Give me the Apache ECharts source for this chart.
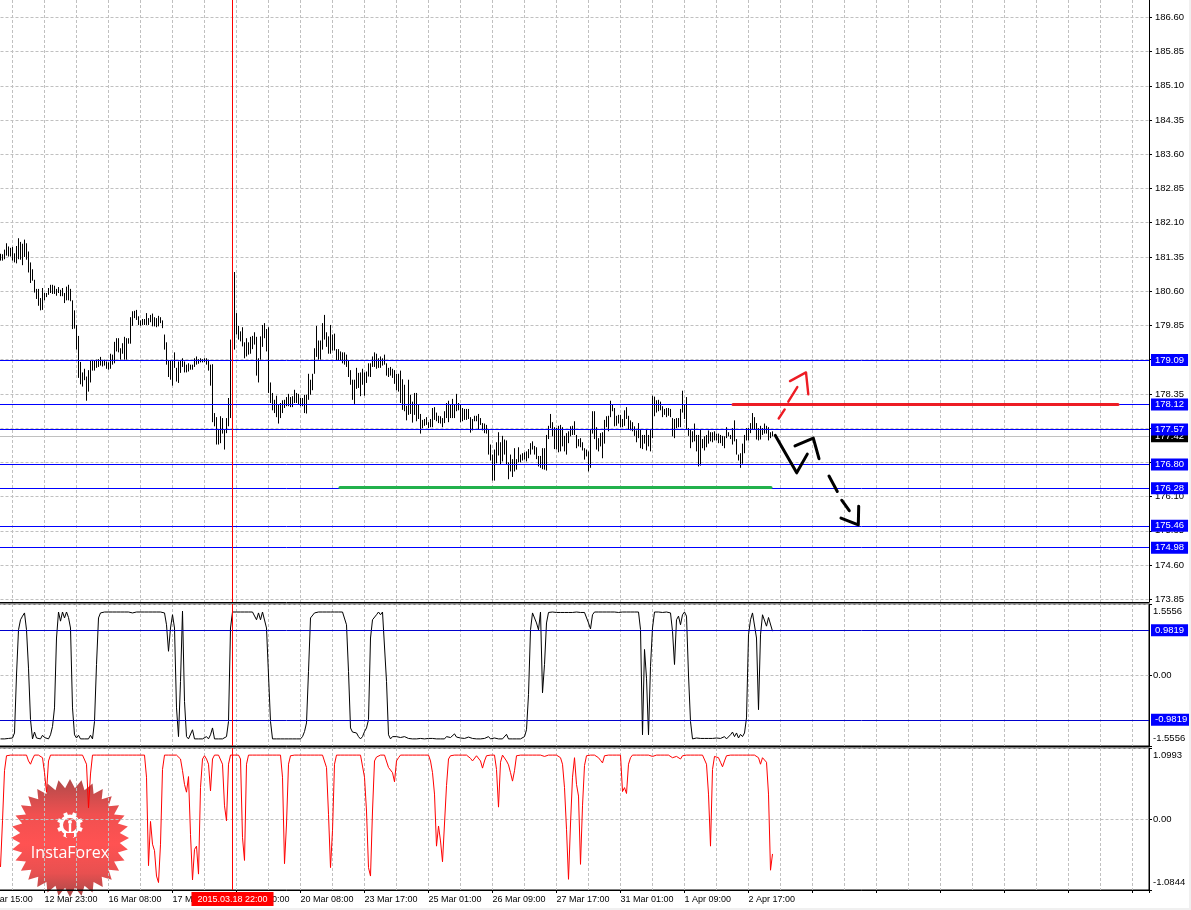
<!DOCTYPE html>
<html>
<head>
<meta charset="utf-8">
<style>
html,body{margin:0;padding:0;background:#f0f0f0;}
#c{width:1189px;height:908px;}
</style>
<script src="https://cdn.jsdelivr.net/npm/echarts@6/dist/echarts.min.js"></script>
</head>
<body>
<div id="c"></div>
<script>
const priceTicks = [186.60,185.85,185.10,184.35,183.60,182.85,182.10,181.35,180.60,179.85,179.10,178.35,177.60,176.85,176.10,175.35,174.60,173.85];
const blueLevels = [179.09,178.12,177.57,176.80,176.28,175.46,174.98];
const bidLevel = 177.42;
const oscLevels = [0.9819,-0.9819];
const oscTicks = [-1.5556,0,1.5556];
const redTicks = [-1.0844,0,1.0993];
const timeLabels = ['11 Mar 15:00','12 Mar 23:00','16 Mar 08:00','17 Mar 16:00','19 Mar 00:00','20 Mar 08:00','23 Mar 17:00','25 Mar 01:00','26 Mar 09:00','27 Mar 17:00','31 Mar 01:00','1 Apr 09:00','2 Apr 17:00'];
const cursorTime = '2015.03.18 22:00';
const cursorX = 94;
const firstBarX = -22;

const barHighs = [
181.42,181.41,181.51,181.65,181.58,181.55,181.57,181.43,181.59,181.76,
181.68,181.64,181.73,181.65,181.47,181.23,181.08,180.85,180.65,180.65,
180.45,180.67,180.56,180.56,180.67,180.74,180.74,180.72,180.65,180.69,
180.63,180.67,180.56,180.70,180.74,180.65,180.40,180.18,179.86,179.62,
179.05,178.82,178.90,178.73,178.87,179.08,179.08,179.08,179.10,179.11,
179.16,179.08,179.10,179.06,179.04,179.23,179.21,179.49,179.57,179.57,
179.35,179.46,179.60,179.57,179.57,180.03,180.16,180.17,180.19,180.05,
179.96,179.99,179.99,180.12,180.01,180.08,180.11,180.03,180.01,180.06,
180.03,179.96,179.65,179.48,179.08,179.08,179.08,179.26,178.92,179.06,
179.08,179.13,179.06,178.99,179.02,178.99,178.99,179.13,179.17,179.11,
179.13,179.11,179.13,179.13,179.10,178.99,179.00,177.93,177.84,177.58,
177.86,177.82,177.58,177.82,178.26,179.54,179.39,181.02,180.12,179.84,
179.72,179.81,179.48,179.57,179.48,179.60,179.62,179.70,179.60,179.13,
179.61,179.86,179.90,179.77,179.81,178.60,178.37,178.22,178.31,178.11,
178.15,178.21,178.22,178.28,178.35,178.28,178.30,178.44,178.37,178.35,
178.26,178.26,178.33,178.33,178.79,178.66,178.79,179.35,179.84,179.52,
179.52,179.90,180.08,179.70,179.61,179.86,179.65,179.67,179.33,179.33,
179.28,179.26,179.26,179.21,179.08,178.87,178.66,178.66,178.92,178.81,
178.82,178.90,178.82,178.84,179.02,179.02,179.17,179.26,179.23,179.13,
179.17,179.13,179.21,179.02,178.92,178.94,178.90,178.87,178.79,178.79,
178.86,178.67,178.55,178.09,178.66,178.33,178.18,178.37,178.37,178.11,
177.91,177.78,177.80,177.84,177.73,177.80,178.04,178.06,177.94,177.87,
177.86,177.82,177.97,178.15,178.20,178.11,178.24,178.11,178.35,178.15,
178.11,178.04,178.02,178.02,178.02,177.84,177.80,177.87,177.87,177.91,
177.82,177.71,177.70,177.67,177.56,177.24,177.02,177.13,177.29,177.51,
177.29,177.43,177.35,177.33,176.85,177.02,176.92,177.16,176.92,177.18,
177.02,177.05,177.07,177.09,177.14,177.27,177.31,177.21,177.18,176.99,
176.99,177.16,177.16,177.45,177.65,177.91,177.73,177.62,177.60,177.65,
177.67,177.62,177.43,177.49,177.53,177.64,177.65,177.75,177.45,177.36,
177.38,177.29,177.16,177.13,177.09,177.56,177.97,177.97,177.62,177.38,
177.49,177.51,177.78,177.86,177.87,178.20,178.11,178.04,177.87,177.89,
177.89,177.80,177.99,178.06,177.87,177.77,177.73,177.64,177.55,177.71,
177.58,177.45,177.45,177.58,177.45,177.58,178.31,178.29,178.21,178.22,
178.18,178.08,178.02,178.04,178.04,178.02,177.82,177.80,177.82,177.82,
178.02,178.42,178.11,178.28,177.60,177.58,177.53,177.70,177.45,177.45,
177.58,177.36,177.42,177.45,177.55,177.51,177.51,177.53,177.48,177.48,
177.45,177.43,177.42,177.62,177.51,177.45,177.60,177.77,177.36,177.02,
177.05,177.26,177.45,177.60,177.60,177.71,177.93,177.84,177.71,177.60,
177.65,177.60,177.70,177.65,177.62,177.51,177.53];

const barLows = [
181.27,181.27,181.30,181.38,181.36,181.36,181.27,181.23,181.21,181.30,
181.29,181.17,181.35,181.29,181.01,180.78,180.83,180.57,180.43,180.28,
180.18,180.19,180.40,180.47,180.52,180.56,180.54,180.54,180.50,180.56,
180.49,180.49,180.34,180.40,180.40,180.38,179.77,179.78,179.32,178.70,
178.56,178.51,178.65,178.20,178.40,178.60,178.86,178.86,178.92,178.94,
178.97,178.95,178.97,178.90,178.88,178.90,178.99,179.02,179.28,179.26,
179.10,179.23,179.10,179.10,179.45,179.45,179.84,180.01,179.97,179.86,
179.84,179.86,179.86,179.86,179.86,179.92,179.83,179.83,179.81,179.83,
179.90,179.79,179.32,178.99,178.72,178.66,178.53,178.92,178.62,178.59,
178.81,178.94,178.82,178.82,178.84,178.88,178.88,178.94,178.99,179.01,
179.04,179.04,179.05,178.99,178.86,178.53,177.73,177.64,177.24,177.24,
177.27,177.48,177.13,177.49,177.64,177.82,178.11,179.32,179.65,179.54,
179.50,179.39,179.13,179.17,179.21,179.23,179.33,179.43,178.75,178.60,
179.10,179.38,179.57,179.28,178.37,178.15,177.99,177.93,177.84,177.70,
177.82,177.93,178.04,178.08,178.08,178.06,178.06,178.15,178.15,178.11,
178.08,178.08,177.93,177.92,178.22,178.33,178.43,178.79,179.16,179.10,
179.10,179.32,179.54,179.38,179.23,179.23,179.30,179.30,179.08,179.08,
179.08,179.02,178.99,178.94,178.72,178.55,178.22,178.13,178.46,178.48,
178.30,178.55,178.31,178.59,178.73,178.72,178.94,178.94,178.90,178.92,
178.92,178.97,178.99,178.75,178.72,178.75,178.70,178.57,178.43,178.40,
178.15,178.00,177.97,177.77,177.89,177.91,177.72,177.89,177.75,177.80,
177.48,177.60,177.65,177.67,177.60,177.62,177.62,177.78,177.75,177.71,
177.70,177.62,177.71,177.82,177.73,177.82,177.82,177.82,177.97,177.99,
177.73,177.75,177.78,177.78,177.80,177.50,177.55,177.75,177.75,177.58,
177.67,177.55,177.49,177.48,177.02,176.89,176.45,176.45,176.83,177.00,
176.80,176.87,177.02,176.80,176.48,176.65,176.53,176.65,176.69,176.85,
176.85,176.89,176.91,176.87,176.94,177.02,177.13,177.02,176.92,176.76,
176.73,176.70,176.69,176.67,177.36,177.60,177.42,177.14,177.13,177.07,
177.09,177.20,177.09,177.02,177.27,177.42,177.45,177.45,177.16,177.20,
177.18,177.11,176.91,176.98,176.65,176.73,177.48,177.36,177.13,177.09,
177.20,176.94,177.26,177.62,177.53,177.84,177.97,177.64,177.65,177.70,
177.62,177.62,177.65,177.80,177.58,177.55,177.53,177.43,177.29,177.38,
177.16,177.14,177.26,177.11,177.20,177.09,177.38,177.86,177.94,177.97,
177.99,177.84,177.89,177.84,177.87,177.84,177.42,177.38,177.60,177.62,
177.62,177.94,177.80,177.58,177.43,177.16,177.29,177.31,177.09,176.76,
176.78,177.16,177.11,177.18,177.26,177.31,177.29,177.33,177.33,177.27,
177.27,177.21,177.16,177.38,177.42,177.36,177.24,177.31,177.02,176.89,
176.73,176.82,177.05,177.33,177.33,177.49,177.56,177.58,177.35,177.33,
177.35,177.45,177.48,177.48,177.33,177.38,177.42];

const oscValues = [
-1.40,-1.39,-1.40,-1.40,-1.39,-1.40,-1.38,-1.27,0.00,0.99,
1.21,1.29,1.36,0.99,0.15,-0.98,-1.40,-1.25,-1.38,-1.35,
-1.40,-1.32,-1.37,-1.35,-1.40,-1.31,-1.13,-0.72,0.81,1.38,
1.18,1.38,1.25,1.38,1.26,1.03,-0.72,-1.31,-1.38,-1.32,
-1.40,-1.40,-1.40,-1.40,-1.40,-1.32,-1.40,-1.02,0.23,1.25,
1.36,1.38,1.38,1.37,1.38,1.36,1.38,1.38,1.38,1.37,
1.38,1.38,1.38,1.37,1.38,1.38,1.36,1.38,1.38,1.38,
1.38,1.37,1.38,1.38,1.38,1.38,1.38,1.38,1.38,1.38,
1.38,1.37,1.36,1.10,0.52,1.03,1.32,1.03,-0.72,-1.35,
-0.14,1.40,-0.58,-1.35,-1.40,-1.40,-1.20,-1.40,-1.40,-1.40,
-1.40,-1.40,-1.40,-1.35,-1.40,-1.31,-1.16,-1.40,-1.40,-1.40,
-1.40,-1.40,-1.40,-1.35,-1.02,1.03,1.38,1.38,1.38,1.38,
1.38,1.38,1.38,1.38,1.38,1.38,1.38,1.38,1.21,1.36,
1.21,1.38,1.38,1.03,0.00,-1.02,-1.40,-1.40,-1.40,-1.40,
-1.40,-1.40,-1.40,-1.40,-1.40,-1.40,-1.40,-1.40,-1.40,-1.40,
-1.40,-1.35,-1.24,-1.05,0.08,1.25,1.25,1.36,1.38,1.38,
1.38,1.38,1.37,1.38,1.38,1.38,1.38,1.38,1.38,1.38,
1.38,1.38,1.38,1.10,0.08,-1.16,-1.25,-1.27,-1.27,-1.35,
-1.40,-1.35,-1.24,-1.16,-0.98,0.81,1.21,1.21,1.32,1.38,
1.32,1.38,1.38,-0.14,-1.31,-1.40,-1.35,-1.31,-1.35,-1.31,
-1.37,-1.40,-1.35,-1.39,-1.39,-1.40,-1.40,-1.40,-1.40,-1.40,
-1.39,-1.40,-1.40,-1.40,-1.39,-1.38,-1.39,-1.39,-1.40,-1.40,
-1.40,-1.40,-1.40,-1.35,-1.33,-1.37,-1.39,-1.29,-1.36,-1.39,
-1.38,-1.39,-1.39,-1.37,-1.36,-1.38,-1.39,-1.40,-1.40,-1.39,
-1.40,-1.40,-1.39,-1.40,-1.35,-1.40,-1.37,-1.38,-1.39,-1.40,
-1.40,-1.40,-1.40,-1.30,-1.40,-1.38,-1.40,-1.40,-1.40,-1.40,
-1.40,-1.38,-1.35,-1.20,-0.43,0.99,1.36,1.38,1.14,0.99,
1.38,-0.39,0.23,1.14,1.37,1.38,1.38,1.37,1.37,1.38,
1.37,1.37,1.37,1.38,1.37,1.38,1.37,1.37,1.38,1.38,
1.37,1.38,1.37,1.37,1.14,1.01,1.32,1.38,1.38,1.38,
1.37,1.38,1.38,1.38,1.37,1.38,1.38,1.38,1.38,1.37,
1.38,1.38,1.38,1.38,1.38,1.38,1.38,1.38,1.38,1.38,
1.00,-1.31,0.56,-0.07,-1.31,0.19,1.03,1.38,1.38,1.38,
1.38,1.37,1.38,1.38,1.38,1.36,0.96,0.23,1.21,1.29,
1.10,1.32,1.38,1.29,0.00,-1.02,-1.40,-1.40,-1.38,-1.37,
-1.39,-1.39,-1.39,-1.38,-1.39,-1.39,-1.39,-1.39,-1.38,-1.39,
-1.39,-1.40,-1.35,-1.40,-1.38,-1.31,-1.25,-1.35,-1.27,-1.38,
-1.30,-1.35,-1.27,-0.94,0.88,1.21,1.36,1.38,0.81,-0.76,
0.88,1.32,1.34,1.07,1.26,1.25,0.96];

const redValues = [
-0.73,-0.02,0.75,0.98,0.99,0.99,0.99,0.99,0.99,0.99,
0.99,0.99,0.99,0.99,0.90,0.85,0.93,0.99,0.99,0.99,
0.99,0.95,0.72,0.42,0.90,0.99,0.99,0.99,0.99,0.99,
0.99,0.99,0.99,0.99,0.99,0.99,0.99,0.99,0.99,0.99,
0.99,0.99,0.99,0.85,0.18,0.70,0.99,0.99,0.99,0.99,
0.99,0.99,0.99,0.99,0.99,0.99,0.99,0.99,0.99,0.99,
0.99,0.99,0.99,0.99,0.99,0.99,0.99,0.99,0.99,0.99,
0.99,0.99,0.99,0.65,-0.71,-0.03,-0.38,-0.48,-0.87,-0.97,
-0.38,0.77,0.99,0.99,0.99,0.99,0.99,0.99,0.99,0.99,
0.93,0.75,0.54,0.42,0.66,-0.23,-0.93,-0.46,-0.41,-0.84,
0.49,0.93,0.98,0.93,0.85,0.44,0.93,0.99,0.99,0.99,
0.99,0.85,0.21,-0.02,0.85,0.99,0.99,0.99,0.99,0.99,
0.93,-0.28,-0.63,0.85,0.99,0.99,0.99,0.99,0.99,0.99,
0.99,0.99,0.99,0.99,0.99,0.99,0.99,0.99,0.99,0.99,
0.99,0.65,-0.68,-0.07,0.85,0.98,0.99,0.99,0.99,0.99,
0.99,0.99,0.99,0.99,0.99,0.99,0.99,0.99,0.99,0.99,
0.99,0.99,0.99,0.80,0.08,-0.74,-0.17,0.85,0.99,0.99,
0.99,0.99,0.99,0.99,0.99,0.99,0.99,0.99,0.99,0.99,
0.99,0.99,0.65,0.13,-0.74,-0.87,0.13,0.90,0.96,0.98,
0.99,0.99,0.99,0.96,0.80,0.80,0.72,0.58,0.90,0.95,
0.99,0.99,0.99,0.99,0.99,0.99,0.99,0.99,0.99,0.99,
0.99,0.99,0.99,0.99,0.99,0.90,0.72,0.39,-0.41,-0.10,
-0.33,-0.65,-0.64,0.52,0.93,0.98,0.99,0.99,0.99,0.99,
0.99,0.99,0.99,0.99,0.99,0.94,0.90,0.93,0.98,0.96,
0.90,0.79,0.90,0.98,0.99,0.99,0.99,0.99,0.77,0.19,
0.88,0.99,0.96,0.90,0.84,0.72,0.59,0.75,0.98,0.99,
0.99,0.99,0.99,0.99,0.99,0.99,0.99,0.99,0.99,0.99,
0.99,0.99,0.97,0.99,0.99,0.99,0.99,0.99,0.99,0.97,
0.95,0.85,0.49,-0.15,-0.92,-0.07,0.65,0.95,0.54,0.36,
-0.69,0.21,0.83,0.98,0.99,0.99,0.99,0.99,0.99,0.95,
0.91,0.87,0.98,0.99,0.99,0.99,0.99,0.99,0.99,0.99,
0.99,0.43,0.49,0.40,0.85,0.95,0.99,0.99,0.99,0.99,
0.99,0.99,0.99,0.99,0.99,0.99,0.97,0.99,0.99,0.99,
0.99,0.99,0.99,0.99,0.99,0.99,0.95,0.97,0.97,0.96,
0.93,0.98,0.99,0.99,0.99,0.99,0.99,0.99,0.99,0.99,
0.99,0.99,0.99,0.85,0.39,-0.41,0.77,0.97,0.96,0.95,
0.88,0.81,0.90,0.98,0.99,0.99,0.99,0.99,0.99,0.99,
0.99,0.99,0.99,0.99,0.99,0.99,0.99,0.99,0.99,0.95,
0.85,0.95,0.96,0.88,0.39,-0.78,-0.53];

const redZone = [[344.25,178.12],[536.75,178.12]];
const greenZone = [[147.75,176.30],[363.25,176.30]];
const redStrokes = [
 [[367.1,177.81],[370.1,178.01]],
 [[371.9,178.18],[376.4,178.50]],
 [[372.75,178.63],[380.75,178.82],[381.9,178.34]]
];
const blackStrokes = [
 [[365.4,177.44],[376.1,176.62],[381.4,177.03]],
 [[375.25,177.21],[384.4,177.38],[387.25,176.93]],
 [[392.25,176.55],[396.4,176.21]],
 [[398.6,176.02],[402.4,175.79]],
 [[398.25,175.63],[406.9,175.48],[407.1,175.89]]
];

const FONT = '"Liberation Sans",sans-serif';
const FS = 9.5;
const FSX = 9;
const dash = {color:'#c0c0c0',type:[3,2],width:1};
const chart = echarts.init(document.getElementById('c'), null, {renderer:'canvas'});

function xAxisFor(gridIndex, labelled){
  return {
    type:'value', gridIndex, min:-32, max:552.25, interval:32,
    axisLine:{show:true,onZero:false,lineStyle:{color:'#000'}},
    axisTick:{show:labelled,length:3,lineStyle:{color:'#000'}},
    minorTick:{show:false,splitNumber:2},
    splitLine:{show:true,lineStyle:dash},
    minorSplitLine:{show:true,lineStyle:dash},
    axisLabel:{show:labelled,align:'left',margin:5,fontFamily:FONT,fontSize:FSX,color:'#000',
      showMinLabel:true,hideOverlap:false,
      formatter:v=>timeLabels[Math.round((v+32)/32)]||''}
  };
}
function yAxisFor(gridIndex,min,max,ticks,fmt){
  return {
    type:'value', gridIndex, position:'right', min, max, scale:true,
    axisLine:{show:true,onZero:false,lineStyle:{color:'#000'}},
    axisTick:{show:true,length:3,customValues:ticks,lineStyle:{color:'#000'}},
    splitLine:{show:true,lineStyle:dash},
    axisLabel:{show:true,customValues:ticks,margin:gridIndex?4:6,fontFamily:FONT,fontSize:FS,lineHeight:15,color:'#000',formatter:fmt,
      verticalAlignMinLabel:gridIndex?'bottom':'middle',verticalAlignMaxLabel:gridIndex?'top':'middle',hideOverlap:false,showMinLabel:true,showMaxLabel:true}
  };
}
const fmtOsc = v=>Math.abs(v)<1e-6?'0.00':v.toFixed(4);
const cursorLine = (label)=>({
  silent:true,symbol:'none',animation:false,z:8,
  lineStyle:{color:'#ff0000',type:'solid',width:1},
  label:label?{show:true,position:'start',distance:2,formatter:cursorTime,color:'#fff',backgroundColor:'#ff0000',padding:[3,6,2,6],fontFamily:FONT,fontSize:FSX}:{show:false},
  data:[{xAxis:cursorX}]
});
const levelLine = (vals,color,lineColor,z,dec)=>({
  silent:true,symbol:'none',animation:false,z,precision:dec,
  lineStyle:{color:lineColor,type:'solid',width:1},
  label:{show:true,position:'end',distance:2,color:'#fff',backgroundColor:color,padding:[1,4,1,4],fontFamily:FONT,fontSize:FS,
    formatter:p=>Number(p.value).toFixed(dec)},
  data:vals.map(v=>({yAxis:v}))
});
const strokeSeries = (pts,color,width)=>({
  type:'line',xAxisIndex:0,yAxisIndex:0,data:pts,symbol:'none',z:7,silent:true,animation:false,
  lineStyle:{color,width,cap:'round',join:'round'}
});

const series = [
  {type:'line',name:'bid',xAxisIndex:0,yAxisIndex:0,data:[],symbol:'none',z:3,animation:false,
   markLine:levelLine([bidLevel],'#000','#c0c0c0',3,2)},
  {type:'line',name:'levels',xAxisIndex:0,yAxisIndex:0,data:[],symbol:'none',z:4,animation:false,
   markLine:levelLine(blueLevels,'#0000ff','#0000ff',4,2)},
  {type:'custom',name:'price',xAxisIndex:0,yAxisIndex:0,z:3,animation:false,silent:true,
   data:barHighs.map((h,j)=>[firstBarX+j,h,barLows[j]]),
   encode:{x:0,y:[1,2]},
   renderItem:(params,api)=>{
     const a=api.coord([api.value(0),api.value(1)]);
     const b=api.coord([api.value(0),api.value(2)]);
     return {type:'line',shape:{x1:a[0],y1:a[1],x2:b[0],y2:b[1]},style:{stroke:'#000',lineWidth:1,fill:null}};
   }},
  Object.assign(strokeSeries(redZone,'#ed1c24',3),{markLine:cursorLine(false)}),
  strokeSeries(greenZone,'#22b14c',3),
  ...redStrokes.map(s=>strokeSeries(s,'#ed1c24',2.4)),
  ...blackStrokes.map(s=>strokeSeries(s,'#000',3)),
  {type:'line',name:'osc',xAxisIndex:1,yAxisIndex:1,symbol:'none',z:3,animation:false,silent:true,
   data:oscValues.map((v,j)=>[firstBarX+j,v]),lineStyle:{color:'#000',width:1},
   markLine:cursorLine(false)},
  {type:'line',name:'osc levels',xAxisIndex:1,yAxisIndex:1,data:[],symbol:'none',z:4,animation:false,
   markLine:levelLine(oscLevels,'#0000ff','#0000cd',4,4)},
  {type:'line',name:'red',xAxisIndex:2,yAxisIndex:2,symbol:'none',z:3,animation:false,silent:true,
   data:redValues.map((v,j)=>[firstBarX+j,v]),lineStyle:{color:'#ff0000',width:1},
   markLine:cursorLine(true)}
];

/* InstaForex badge */
const cx=70, cy=838, spikes=32, R=59, r=50;
const star=[];
for(let i=0;i<spikes*2;i++){
  const a=Math.PI*i/spikes-Math.PI/2, q=i%2?r:R;
  star.push([cx+q*Math.cos(a),cy+q*Math.sin(a)]);
}
const gearX=70, gearY=825;
const teeth=[];
for(let i=0;i<8;i++){
  const a=Math.PI*i/4+Math.PI/8;
  teeth.push({type:'rect',z:-1,silent:true,rotation:-a,x:gearX,y:gearY,originX:0,originY:0,
    shape:{x:-2,y:-13,width:4,height:4},style:{fill:'#fff'}});
}
const badge=[
  {type:'polygon',z:-1,silent:true,shape:{points:star},style:{
    fill:{type:'linear',x:0,y:0,x2:0,y2:1,colorStops:[{offset:0,color:'#b04a4a'},{offset:0.3,color:'#f05050'},{offset:0.55,color:'#ff5252'},{offset:0.8,color:'#e85050'},{offset:1,color:'#a84848'}]}}},
  {type:'ring',z:-1,silent:true,shape:{cx:gearX,cy:gearY,r:10.5,r0:7},style:{fill:'#fff'}},
  ...teeth,
  {type:'circle',z:-1,silent:true,shape:{cx:gearX,cy:gearY-3,r:2},style:{fill:'#fff'}},
  {type:'rect',z:-1,silent:true,shape:{x:gearX-1.2,y:gearY-1,width:2.4,height:12},style:{fill:'#fff'}},
  {type:'rect',z:-1,silent:true,shape:{x:gearX-4,y:gearY+8,width:8,height:4},style:{fill:'#ff5252'}},
  {type:'text',z:-1,silent:true,x:cx,y:853,style:{text:'InstaForex',fill:'#fff',font:'400 16px "Open Sans",sans-serif',textAlign:'center',textVerticalAlign:'middle'}}
];

chart.setOption({
  animation:false,
  backgroundColor:'#ffffff',
  grid:[
    {left:-19.5,width:1168.5,top:0,height:602,show:false,outerBoundsMode:'none'},
    {left:-19.5,width:1168.5,top:604,height:142,show:true,borderColor:'#000',borderWidth:1,backgroundColor:'transparent',outerBoundsMode:'none'},
    {left:-19.5,width:1168.5,top:748,height:142,show:true,borderColor:'#000',borderWidth:1,backgroundColor:'transparent',outerBoundsMode:'none'}
  ],
  xAxis:[xAxisFor(0,false),xAxisFor(1,false),xAxisFor(2,true)],
  yAxis:[
    yAxisFor(0,173.79,186.98,priceTicks,v=>v.toFixed(2)),
    yAxisFor(1,-1.5556,1.5556,oscTicks,fmtOsc),
    yAxisFor(2,-1.0844,1.0993,redTicks,fmtOsc)
  ],
  graphic:{elements:badge},
  series
});
</script>
</body>
</html>
